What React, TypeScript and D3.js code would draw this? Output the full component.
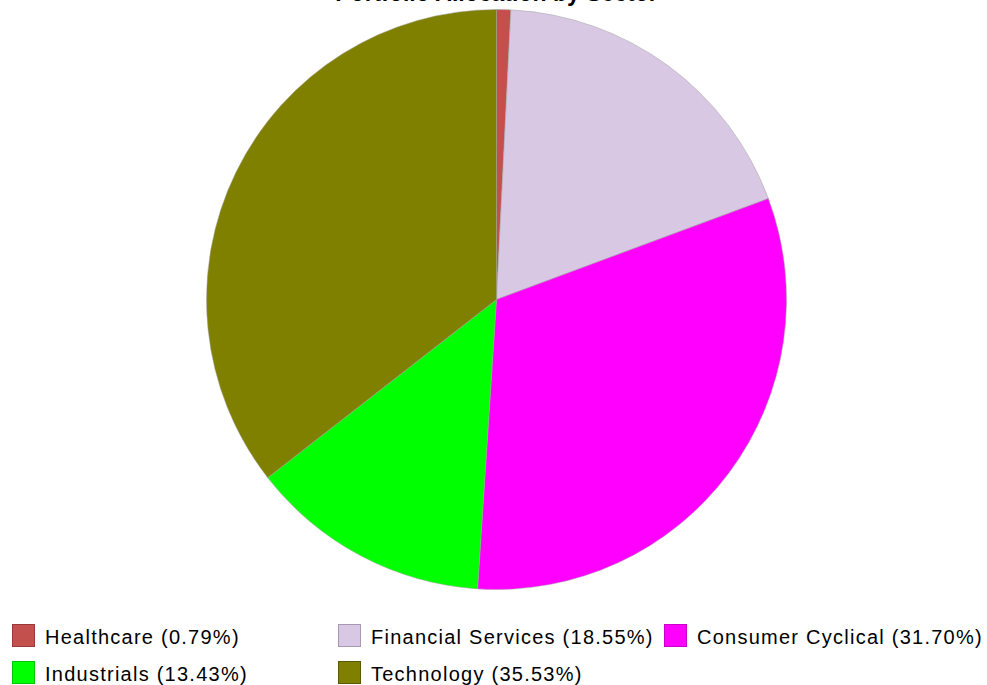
import React from "react";
import * as d3 from "d3";

const categories = ["Healthcare", "Financial Services", "Consumer Cyclical", "Industrials", "Technology"];
const values = [0.79, 18.55, 31.7, 13.43, 35.53];
const colors = ["#c4504d", "#d8c8e4", "#ff00ff", "#00ff00", "#808000"];
const borders = ["#9a3a38", "#a898b4", "#c800c8", "#00c800", "#5a5a00"];
const title = "Portfolio Allocation by Sector";

const W = 987;
const H = 685;
const cx = 496.5;
const cy = 299.5;
const R = 290;

const legendCols = [12, 338, 664];
const legendRows = [624, 661];

export default function App() {
  const pie = d3.pie<number>().sort(null).value((d) => d).startAngle(0).endAngle(2 * Math.PI);
  const arcs = pie(values);
  const arc = d3.arc<d3.PieArcDatum<number>>().innerRadius(0).outerRadius(R);

  return (
    <svg width={W} height={H} style={{ position: "absolute", left: 0, top: 0, background: "#fff" }}>
      <rect x={0} y={0} width={W} height={H} fill="#fff" />
      <text x={cx} y={1} textAnchor="middle" fontFamily="Liberation Sans, Arial, sans-serif" fontWeight="bold" fontSize={23} fill="#000">
        {title}
      </text>
      <g transform={`translate(${cx},${cy})`}>
        {arcs.map((a, i) => (
          <path key={i} d={arc(a) || ""} fill={colors[i]} stroke="#a0a0a0" strokeWidth={0.5} />
        ))}
      </g>
      {categories.map((c, i) => {
        const col = i % 3;
        const row = Math.floor(i / 3);
        const x = legendCols[col];
        const y = legendRows[row];
        return (
          <g key={c}>
            <rect x={x + 0.5} y={y + 0.5} width={22} height={22} fill={colors[i]} stroke={borders[i]} strokeWidth={1} />
            <text
              x={x + 33}
              y={y + 20}
              fontFamily="Liberation Sans, Arial, sans-serif"
              fontSize={20}
              letterSpacing={1.25}
              fill="#000"
            >
              {`${c} (${values[i].toFixed(2)}%)`}
            </text>
          </g>
        );
      })}
    </svg>
  );
}
